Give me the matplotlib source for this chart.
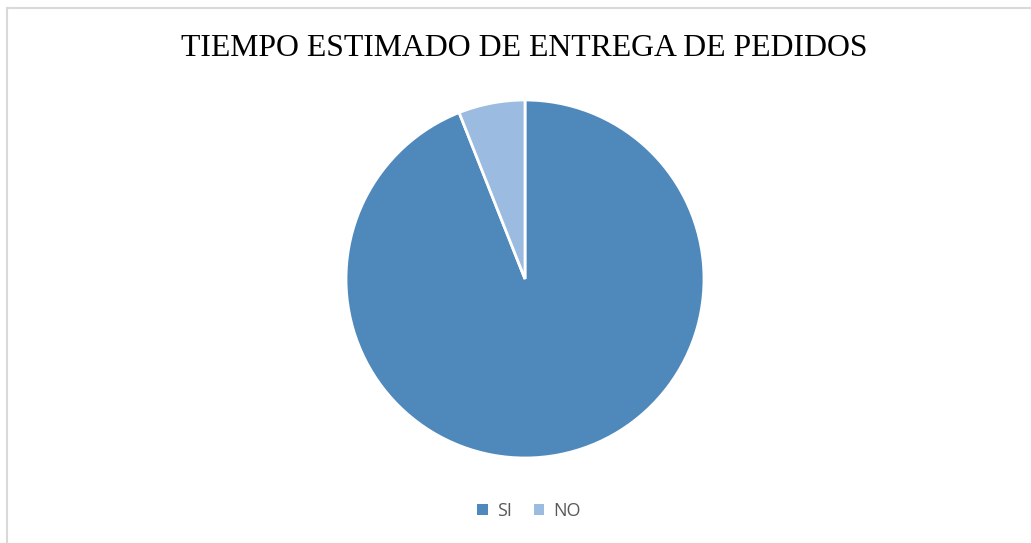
import matplotlib
matplotlib.use("Agg")
import matplotlib.pyplot as plt
from matplotlib.lines import Line2D
from matplotlib.patches import Patch

labels = ["SI", "NO"]
values = [94, 6]
colors = ["#4f88bb", "#9bbbe0"]

W, H = 1031, 543
fig = plt.figure(figsize=(W / 100, H / 100), dpi=100)
fig.patch.set_facecolor("white")

# pie area: center (525, 279), radius 179 px
cx, cy, r = 525, 279, 179
ax = fig.add_axes([(cx - r) / W, (H - cy - r) / H, 2 * r / W, 2 * r / H])
ax.pie(values, colors=colors, startangle=90, counterclock=False,
       wedgeprops=dict(edgecolor="white", linewidth=2))
ax.set_xlim(-1, 1)
ax.set_ylim(-1, 1)
ax.set_aspect("equal")
ax.axis("off")

fig.text(524 / W, 1 - 49 / H, "TIEMPO ESTIMADO DE ENTREGA DE PEDIDOS",
         ha="center", va="center", fontsize=22.9, family="Liberation Serif",
         color="black")

handles = [Patch(facecolor=c, edgecolor="none") for c in colors]
fig.legend(handles, labels, loc="center", bbox_to_anchor=(529 / W, 1 - 511 / H),
           ncol=2, frameon=False, handlelength=0.6, handleheight=0.6,
           handletextpad=0.5, columnspacing=1.2, labelcolor="#595959",
           prop={"family": "Open Sans", "size": 13})

# chart-area border (top and left edges)
fig.add_artist(Line2D([6.5 / W, 6.5 / W], [0, 1 - 7.5 / H], color="#d9d9d9", lw=1.5))
fig.add_artist(Line2D([6.5 / W, 1], [1 - 7.5 / H, 1 - 7.5 / H], color="#d9d9d9", lw=1.5))

fig.savefig("out.png", dpi=100, facecolor="white")
